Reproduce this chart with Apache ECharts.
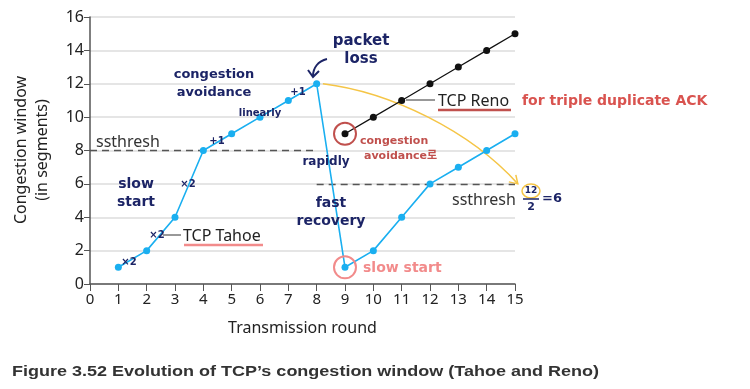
<!DOCTYPE html>
<html><head><meta charset="utf-8">
<script src="https://cdn.jsdelivr.net/npm/echarts@6/dist/echarts.min.js"></script>
<style>html,body{margin:0;padding:0;background:#fff}#c{width:750px;height:389px}</style>
</head><body><div id="c"></div>
<script>
// ---- data ----
const rounds = [1,2,3,4,5,6,7,8,9,10,11,12,13,14,15];
const tahoe  = [1,2,4,8,9,10,11,12,1,2,4,6,7,8,9];
const renoRounds = [9,10,11,12,13,14,15];
const reno   = [9,10,11,12,13,14,15];
const ssthreshOld = 8;   // before loss
const ssthreshNew = 6;   // 12/2 after loss
const xTicks = [0,1,2,3,4,5,6,7,8,9,10,11,12,13,14,15];
const yTicks = [0,2,4,6,8,10,12,14,16];

const chart = echarts.init(document.getElementById('c'));
const HAND = '"DejaVu Sans", "Noto Sans CJK KR", sans-serif';
const NAVY = '#1c2466';
const BLUE = '#1aaff0';

chart.setOption({
  animation:false,
  grid:{left:90,right:235,top:17,bottom:105},
  xAxis:{type:'value',min:0,max:15,interval:1,
    name:'Transmission round',nameLocation:'middle',nameGap:36,
    nameTextStyle:{fontFamily:'"Noto Sans"',fontSize:16,color:'#222'},
    axisLine:{lineStyle:{color:'#555',width:1.5}},
    axisTick:{length:7,lineStyle:{color:'#555'}},
    axisLabel:{fontFamily:'"Noto Sans"',fontSize:15,color:'#222',margin:8},
    splitLine:{show:false}},
  yAxis:{type:'value',min:0,max:16,interval:2,
    axisLine:{show:true,lineStyle:{color:'#555',width:1.5}},
    axisTick:{show:true,length:6,lineStyle:{color:'#555'}},
    axisLabel:{fontFamily:'"Noto Sans"',fontSize:16,color:'#222',margin:6},
    splitLine:{lineStyle:{color:'#ddd',width:1.5}}},
  series:[
    {type:'line',data:rounds.map((r,i)=>[r,tahoe[i]]),symbol:'circle',symbolSize:7,
     itemStyle:{color:BLUE},lineStyle:{color:BLUE,width:1.6},z:5},
    {type:'line',data:renoRounds.map((r,i)=>[r,reno[i]]),symbol:'circle',symbolSize:7,
     itemStyle:{color:'#111'},lineStyle:{color:'#111',width:1.3},z:4},
    {type:'line',data:[],markLine:{symbol:'none',silent:true,label:{show:false},
      lineStyle:{color:'#555',type:[7,5],width:1.3},
      data:[[{coord:[0,ssthreshOld]},{coord:[8,ssthreshOld]}],
            [{coord:[8,ssthreshNew]},{coord:[15,ssthreshNew]}]]}}
  ]
});

function P(x,y){return chart.convertToPixel({gridIndex:0},[x,y]);}
function txt(x,y,t,o){return {type:'text',x:x,y:y,z:20,style:Object.assign({text:t,fill:NAVY,font:'bold 14px '+HAND,textAlign:'center',textVerticalAlign:'middle'},o||{})};}

const g=[];
// yellow curved arrow from packet loss point to new ssthresh
const a0=P(8.22,12),a1=P(10.6,11.5),a2=P(13.4,9.2),a3=P(15.1,6.0);
g.push({type:'bezierCurve',shape:{x1:a0[0],y1:a0[1],cpx1:a1[0],cpy1:a1[1],cpx2:a2[0],cpy2:a2[1],x2:a3[0],y2:a3[1]},style:{stroke:'#f5c546',lineWidth:1.5,fill:null},z:3});
g.push({type:'polyline',shape:{points:[[a3[0]-9,a3[1]-2],[a3[0],a3[1]],[a3[0]-2,a3[1]-9]]},style:{stroke:'#f5c546',lineWidth:1.5,fill:null},z:3});
// circles
const c1=P(9,1),c2=P(9,9);
g.push({type:'circle',shape:{cx:c1[0],cy:c1[1],r:11},style:{stroke:'#f28b8b',lineWidth:2,fill:null},z:6});
g.push({type:'circle',shape:{cx:c2[0],cy:c2[1],r:11},style:{stroke:'#c0504d',lineWidth:2,fill:null},z:6});
// labels: ssthresh
g.push(txt(96,142,'ssthresh',{fill:'#333',font:'16px "Noto Sans"',textAlign:'left'}));
g.push(txt(452,200,'ssthresh',{fill:'#333',font:'16px "Noto Sans"',textAlign:'left'}));
// TCP Tahoe
g.push({type:'line',shape:{x1:163,y1:235,x2:181,y2:235},style:{stroke:'#333',lineWidth:1},z:6});
g.push(txt(183,236,'TCP Tahoe',{fill:'#222',font:'16px "Noto Sans"',textAlign:'left'}));
g.push({type:'line',shape:{x1:184,y1:245,x2:263,y2:245},style:{stroke:'#f28b8b',lineWidth:2.5},z:6});
// TCP Reno
g.push({type:'line',shape:{x1:406,y1:100,x2:435,y2:100},style:{stroke:'#333',lineWidth:1},z:6});
g.push(txt(438,101,'TCP Reno',{fill:'#222',font:'16px "Noto Sans"',textAlign:'left'}));
g.push({type:'line',shape:{x1:438,y1:110,x2:511,y2:110},style:{stroke:'#c0504d',lineWidth:2.5},z:6});
// handwritten annotations
g.push(txt(214,75,'congestion',{font:'bold 13px '+HAND}));
g.push(txt(214,93,'avoidance',{font:'bold 13px '+HAND}));
g.push(txt(260,113,'linearly',{font:'bold 10px '+HAND}));
g.push(txt(298,92,'+1',{font:'bold 10px '+HAND}));
g.push(txt(217,141,'+1',{font:'bold 10px '+HAND}));
g.push(txt(129,262,'×2',{font:'bold 10px '+HAND}));
g.push(txt(157,235,'×2',{font:'bold 10px '+HAND}));
g.push(txt(188,184,'×2',{font:'bold 10px '+HAND}));
g.push(txt(136,184,'slow',{font:'bold 14px '+HAND}));
g.push(txt(136,202,'start',{font:'bold 14px '+HAND}));
g.push(txt(361,41,'packet',{font:'bold 15px '+HAND}));
g.push(txt(361,59,'loss',{font:'bold 15px '+HAND}));
g.push(txt(326,162,'rapidly',{font:'bold 12px '+HAND}));
g.push(txt(331,203,'fast',{font:'bold 14px '+HAND}));
g.push(txt(331,221,'recovery',{font:'bold 14px '+HAND}));
g.push(txt(363,268,'slow start',{fill:'#f28b8b',font:'bold 14px '+HAND,textAlign:'left'}));
g.push(txt(360,141,'congestion',{fill:'#c0504d',font:'bold 11px '+HAND,textAlign:'left'}));
g.push(txt(364,156,'avoidance로',{fill:'#c0504d',font:'bold 11px '+HAND,textAlign:'left'}));
g.push(txt(522,101,'for triple duplicate ACK',{fill:'#d9534f',font:'bold 14px '+HAND,textAlign:'left'}));
// 12/2 = 6
g.push({type:'ellipse',shape:{cx:531,cy:191,rx:9,ry:7},style:{stroke:'#f5c546',lineWidth:1.5,fill:null},z:6});
g.push(txt(531,191,'12',{font:'bold 9px '+HAND}));
g.push({type:'line',shape:{x1:523,y1:199,x2:539,y2:199},style:{stroke:NAVY,lineWidth:1.5},z:6});
g.push(txt(531,207,'2',{font:'bold 11px '+HAND}));
g.push(txt(542,199,'=6',{font:'bold 13px '+HAND,textAlign:'left'}));
// navy arrow packet loss -> point
g.push({type:'bezierCurve',shape:{x1:327,y1:59,cpx1:318,cpy1:61,cpx2:313,cpy2:68,x2:313,y2:76},style:{stroke:NAVY,lineWidth:2,fill:null},z:6});
g.push({type:'polyline',shape:{points:[[308,70],[313,77],[319,71]]},style:{stroke:NAVY,lineWidth:2,fill:null},z:6});
// axis title
g.push({type:'text',x:32,y:150,rotation:Math.PI/2,z:6,style:{text:'Congestion window\n(in segments)',fill:'#222',font:'16px "Noto Sans"',textAlign:'center',textVerticalAlign:'middle',lineHeight:21}});
// caption
g.push({type:'text',x:12,y:372,scaleX:1.2,z:6,style:{text:'Figure 3.52 Evolution of TCP\u2019s congestion window (Tahoe and Reno)',fill:'#333',font:'bold 15px "Liberation Sans", Arial, sans-serif',textVerticalAlign:'middle'}});
chart.setOption({graphic:g});
</script></body></html>
